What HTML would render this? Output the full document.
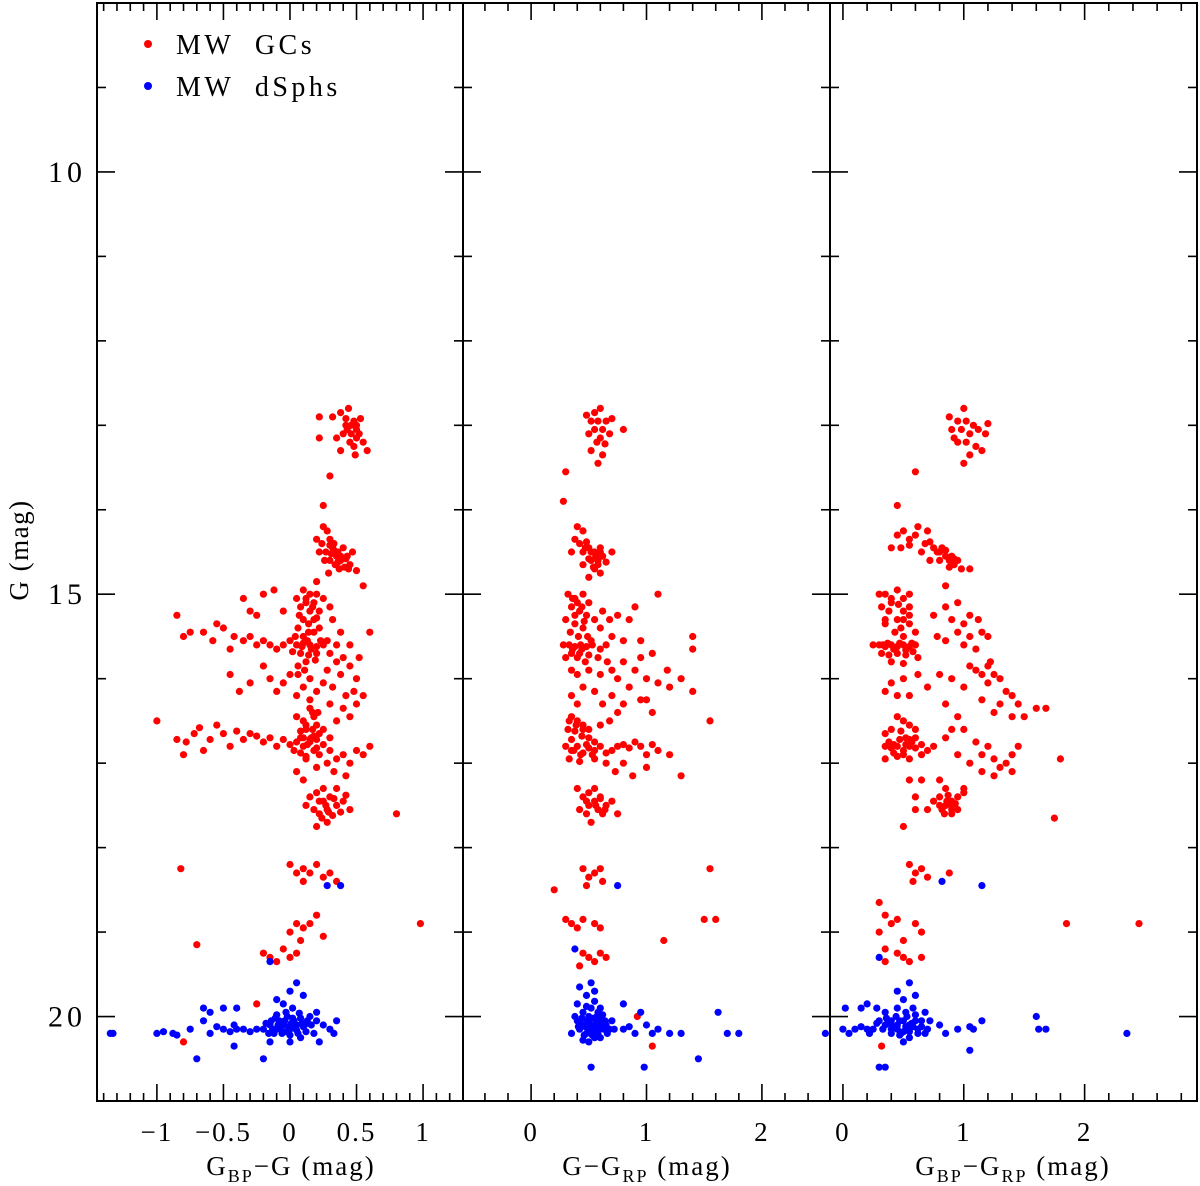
<!DOCTYPE html>
<html><head><meta charset="utf-8"><style>
html,body{margin:0;padding:0;background:#fff}
svg{display:block}
text{font-family:"Liberation Serif","DejaVu Serif",serif;fill:#000}
</style></head><body>
<svg id="chart" width="1200" height="1186" viewBox="0 0 1200 1186" xmlns="http://www.w3.org/2000/svg">
<g id="marks"></g>
<g id="axes"></g>
<g>
<circle cx="148" cy="44" r="4" fill="#ff0000"/>
<text x="176" y="54" font-size="28" letter-spacing="3.5" xml:space="preserve">MW  GCs</text>
<circle cx="148" cy="86" r="4" fill="#0000ff"/>
<text x="176" y="96" font-size="28" letter-spacing="3.5" xml:space="preserve">MW  dSphs</text>
</g>
<text transform="translate(28,550) rotate(-90)" font-size="27" letter-spacing="1.5" text-anchor="middle">G (mag)</text>
<text x="291" y="1175" font-size="27" letter-spacing="2" text-anchor="middle">G<tspan font-size="18" dy="7">BP</tspan><tspan dy="-7">−G (mag)</tspan></text>
<text x="647" y="1175" font-size="27" letter-spacing="2" text-anchor="middle">G−G<tspan font-size="18" dy="7">RP</tspan><tspan dy="-7"> (mag)</tspan></text>
<text x="1013" y="1175" font-size="27" letter-spacing="2" text-anchor="middle">G<tspan font-size="18" dy="7">BP</tspan><tspan dy="-7">−G</tspan><tspan font-size="18" dy="7">RP</tspan><tspan dy="-7"> (mag)</tspan></text>
</svg>
<script>
// ---- data ----
const gTicks = [10, 15, 20];
const leftTicks = ["−1", "−0.5", "0", "0.5", "1"];
const leftTickVals = [-1, -0.5, 0, 0.5, 1];
const colTicks = ["0", "1", "2"];
const colTickVals = [0, 1, 2];

const leftRedX = [0.32,0.38,0.44,0.48,0.42,0.5,0.46,0.52,0.4,0.35,0.45,0.55,0.5,0.43,0.38,0.48,0.58,0.22,0.22,0.53,0.42,0.49,0.3,0.25,
0.25,0.28,0.2,0.24,0.3,0.33,0.22,0.27,0.32,0.36,0.4,0.35,0.3,0.38,0.43,0.45,0.41,0.34,0.26,0.47,0.44,0.5,0.37,0.2,0.55,0.29,
0.1,0.15,0.2,0.05,0.12,0.18,0.25,0.08,0.15,0.22,0.3,0.1,0.18,0.06,0.14,0.22,0.32,0.38,0.45,0.35,0.28,
0,0.05,0.1,0.15,0.2,0.25,0.02,0.08,0.14,0.2,0.12,0.06,-0.05,-0.1,-0.15,-0.2,-0.25,-0.3,-0.35,-0.42,-0.5,-0.45,-0.55,-0.58,-0.65,-0.75,-0.85,-0.8,-0.35,-0.2,-0.12,-0.25,-0.3,-0.05,
0.3,0.35,0.4,0.45,0.28,0.38,0.5,0.25,0.32,0.42,0.48,0.55,0.5,0.4,0.3,0.2,0.15,0.1,0.05,0,-0.05,-0.1,-0.15,-0.2,-0.3,-0.38,-0.45,0.6,0.52,0.35,0.45,
0.15,0.18,0.1,0.2,0.12,0.22,0.08,0.16,0.25,0.05,
0.05,0.1,0.15,0.2,0.1,0.18,0,0.25,0.08,0.12,0.22,-0.05,-0.1,-0.15,-0.2,-0.25,-0.3,-0.35,-0.4,-0.45,-0.5,-0.6,-0.65,-0.72,-0.78,-0.68,-0.55,-0.85,-1.0,-0.8,0.3,0.35,0.4,0.45,0.5,0.55,0.33,0.42,0.28,0.2,0.6,0.3,
0.15,0.2,0.25,0.3,0.35,0.4,0.18,0.28,0.22,0.32,0.38,0.42,0.12,0.45,0.25,0.35,0.28,0.2,0.8,0.1,0.05,
0,0.05,0.1,0.15,0.2,0.25,0.3,0.35,0.1,-0.82,
0.05,0.1,0.15,0.2,0,0.08,0.98,0.25,
-0.05,0,-0.1,-0.15,0.05,-0.2,-0.7,-0.25,-0.8,
0.12,0.17,0.07,0.2,0.14,0.1,0.04,0.18,0.23,0.16,0.09,0.13,0.19,0.11,0.06,0.15,0.21,0.17,0.13,0.08,0.03,0.18,0.12,0.15,0.2,0.33,0.38,0.31,0.36,0.42,0.3,0.22,0.27,0.33,0.29,0.24,0.12,0.17,0.46,0.5];
const leftRedG = [12.9,12.85,12.8,12.95,13.0,13.0,13.1,13.1,13.1,13.15,13.2,13.2,13.05,13.05,13.3,13.25,13.3,12.9,13.15,12.92,12.92,13.35,13.6,13.95,
14.2,14.25,14.35,14.4,14.35,14.4,14.5,14.5,14.45,14.5,14.45,14.55,14.6,14.6,14.55,14.65,14.68,14.65,14.6,14.5,14.7,14.72,14.7,14.85,14.9,14.75,
14.95,15.0,15.0,15.05,15.1,15.1,15.05,15.15,15.2,15.2,15.15,15.3,15.3,15.4,15.45,15.4,15.3,15.45,15.6,15.6,15.55,
15.55,15.6,15.58,15.6,15.62,15.6,15.68,15.7,15.72,15.7,15.8,15.85,15.6,15.65,15.6,15.55,15.6,15.5,15.55,15.5,15.4,15.65,15.35,15.55,15.45,15.45,15.25,15.5,15.05,15.0,14.95,15.25,15.2,15.2,
15.7,15.8,15.75,15.85,15.9,15.95,16.0,16.05,16.1,16.2,16.15,16.2,16.3,16.35,16.3,16.15,16.0,16.1,16.2,15.95,16.05,16.15,16.0,15.85,16.05,16.15,15.95,15.45,15.75,16.5,16.45,
16.35,16.45,16.5,16.55,16.6,16.65,16.7,16.7,16.6,16.45,
16.75,16.8,16.75,16.82,16.7,16.68,16.78,16.78,16.88,16.92,16.9,16.72,16.8,16.7,16.75,16.68,16.65,16.72,16.62,16.8,16.65,16.72,16.85,16.65,16.75,16.58,16.55,16.72,16.5,16.9,16.85,16.95,16.9,17.0,16.85,16.9,17.1,17.15,17.0,17.05,16.8,16.7,
17.4,17.35,17.45,17.4,17.5,17.45,17.55,17.55,17.6,17.62,17.58,17.38,17.5,17.55,17.3,17.3,17.7,17.75,17.6,17.2,17.1,
18.2,18.3,18.25,18.3,18.2,18.35,18.3,18.4,18.4,18.25,
18.9,18.95,18.9,18.8,19.0,19.1,18.9,19.05,
19.2,19.3,19.35,19.3,19.25,19.25,19.15,19.85,20.3,
15.05,15.15,15.25,15.28,15.35,15.5,15.5,15.45,15.55,15.65,15.62,15.55,15.78,15.9,15.95,16.25,16.4,16.6,16.78,16.62,16.85,16.85,16.95,16.72,16.72,14.48,14.55,14.52,14.62,14.58,14.42,17.45,17.5,17.42,17.58,17.65,16.55,16.4,13.0,13.15];
const leftBlueX = [-0.2,-0.15,-0.1,-0.05,0,0.05,0.1,-0.08,-0.02,0.03,0.08,-0.12,-0.06,0,0.06,0.12,-0.03,0.02,-0.1,0.15,0.2,0.25,0.3,0.18,-0.25,-0.3,-0.35,-0.4,-0.45,-0.5,-0.42,-0.55,-0.6,-0.65,-0.5,-0.6,-0.65,-0.4,-0.42,-0.7,-0.75,-0.88,-0.95,-1.0,-0.85,-1.35,-1.33,-0.2,-0.1,0,0.05,0.1,0.2,0.22,0.35,0.33,0,-0.15,-0.05,0.28,0.38,-0.15,
-0.18,-0.14,-0.09,-0.04,0.01,0.04,0.09,0.13,-0.07,-0.01,0.05,0.11,-0.16,-0.11,0.16,0.07,-0.03,0.02,-0.13,0.08];
const leftBlueG = [20.15,20.1,20.15,20.1,20.15,20.1,20.12,20.05,20.0,20.05,20.02,20.2,20.2,20.22,20.2,20.18,19.95,19.9,19.98,20.0,20.05,20.1,20.15,20.2,20.15,20.18,20.15,20.15,20.18,20.15,20.1,20.12,20.2,20.05,19.9,19.95,19.9,19.9,20.35,20.5,20.15,20.2,20.18,20.2,20.22,20.2,20.2,20.5,19.8,19.7,19.6,19.75,19.95,20.3,20.05,20.2,20.3,20.3,19.85,18.45,18.45,19.35,
20.08,20.05,20.1,20.05,20.08,20.14,20.08,20.05,20.14,20.12,20.16,20.1,20.2,20.02,20.1,19.96,20.18,20.02,20.15,20.25];

const midRedX = [0.55,0.6,0.52,0.58,0.65,0.62,0.55,0.5,0.6,0.68,0.57,0.64,0.7,0.8,0.52,0.62,0.58,0.48,0.3,0.28,
0.4,0.45,0.38,0.42,0.48,0.5,0.45,0.55,0.6,0.52,0.58,0.62,0.65,0.55,0.6,0.5,0.7,0.35,0.45,
0.32,0.38,0.45,0.5,0.35,0.42,0.48,0.3,0.38,0.45,0.55,0.62,0.68,0.75,0.85,0.9,1.1,1.4,1.4,0.6,0.7,0.8,0.95,1.05,
0.28,0.33,0.38,0.43,0.48,0.53,0.35,0.42,0.5,0.6,0.65,0.58,0.3,0.66,
0.35,0.4,0.5,0.6,0.7,0.75,0.8,0.9,1.0,1.1,1.2,1.4,0.85,0.7,0.55,0.45,0.35,0.4,0.62,0.8,0.95,1.05,0.75,1.3,1.0,1.18,0.95,
0.35,0.4,0.45,0.32,0.38,0.44,0.5,0.6,0.68,0.35,
0.3,0.35,0.4,0.45,0.5,0.55,0.6,0.65,0.7,0.75,0.8,0.85,0.9,0.95,1.0,1.05,1.1,1.2,0.33,0.42,0.55,0.65,0.8,1.0,0.88,0.73,1.3,1.55,
0.45,0.5,0.55,0.6,0.65,0.5,0.58,0.48,0.62,0.42,0.7,0.55,0.4,0.75,0.52,
0.45,0.5,0.55,0.6,0.48,0.62,1.55,0.2,
0.3,0.35,0.4,0.45,0.55,0.6,1.5,1.6,1.15,
0.45,0.5,0.55,0.6,0.65,0.42,0.92,1.05,
0.36,0.4,0.44,0.38,0.46,0.34,0.41,0.49,0.52,0.36,0.44,0.4,0.47,0.33,0.39,0.45,0.5,0.55,0.37,0.43,0.48,0.53,0.47,0.52,0.56,0.5,0.58,0.54,0.6,0.48,0.56,0.6,0.64];
const midRedG = [12.85,12.8,12.95,12.95,12.95,13.05,13.05,13.1,13.15,13.1,13.2,13.22,12.92,13.05,13.3,13.35,13.45,12.88,13.55,13.9,
14.2,14.25,14.35,14.4,14.38,14.45,14.5,14.5,14.5,14.6,14.6,14.55,14.62,14.7,14.75,14.8,14.5,14.5,14.65,
15.0,15.05,15.0,15.1,15.15,15.2,15.25,15.3,15.35,15.4,15.3,15.2,15.3,15.25,15.3,15.15,15.0,15.5,15.65,15.4,15.5,15.55,15.55,15.7,
15.6,15.6,15.62,15.6,15.62,15.6,15.7,15.7,15.72,15.65,15.6,15.75,15.75,15.8,
15.9,15.95,15.9,15.95,15.9,16.0,15.8,15.9,16.0,16.05,16.1,16.15,16.1,16.2,16.15,16.1,16.2,16.3,16.3,16.3,16.25,16.4,16.4,16.0,16.25,15.9,15.75,
16.45,16.5,16.55,16.6,16.62,16.68,16.6,16.55,16.5,16.72,
16.8,16.85,16.8,16.88,16.82,16.85,16.8,16.88,16.85,16.8,16.78,16.82,16.75,16.8,16.9,16.78,16.85,16.9,16.95,16.98,16.95,17.0,17.0,17.05,17.15,17.1,17.15,16.5,
17.4,17.35,17.45,17.4,17.5,17.5,17.55,17.6,17.6,17.55,17.45,17.3,17.3,17.6,17.7,
18.25,18.35,18.3,18.25,18.45,18.4,18.25,18.5,
18.85,18.9,18.95,18.85,18.9,18.95,18.85,18.85,19.1,
19.25,19.3,19.35,19.25,19.3,19.4,20.0,20.35,
15.05,15.1,15.15,15.25,15.32,15.45,15.5,15.5,15.55,15.65,15.65,15.75,15.8,16.5,16.55,16.6,16.7,16.75,16.85,16.9,16.78,16.9,14.45,14.5,14.55,14.58,14.65,14.68,14.45,17.45,17.5,17.42,17.55];
const midBlueX = [0.4,0.45,0.5,0.55,0.6,0.65,0.42,0.48,0.53,0.58,0.63,0.68,0.45,0.52,0.58,0.5,0.55,0.6,0.38,0.35,0.7,0.72,0.5,0.55,0.45,0.4,0.48,0.52,0.55,0.42,0.8,0.85,0.9,1.0,1.05,1.1,1.2,1.3,1.45,1.62,1.7,1.8,2.55,0.95,0.8,0.52,0.98,0.38,0.75,
0.43,0.47,0.51,0.56,0.61,0.44,0.5,0.54,0.59,0.64,0.46,0.53,0.57,0.62,0.49,0.41,0.66,0.55,0.48,0.6];
const midBlueG = [20.05,20.1,20.05,20.1,20.05,20.1,20.15,20.2,20.15,20.2,20.15,20.15,19.95,19.9,19.95,20.0,19.82,19.9,20.0,20.2,20.05,20.15,20.3,20.25,20.28,19.85,19.75,19.6,19.7,19.65,20.15,20.12,20.2,20.1,20.2,20.15,20.2,20.2,20.5,19.95,20.2,20.2,20.2,19.95,19.85,20.6,20.6,19.2,18.45,
20.08,20.12,20.1,20.08,20.12,20.02,20.18,20.02,20.15,20.05,20.22,20.22,20.0,19.98,20.05,20.12,20.2,20.15,19.88,20.25];

const rightRedX = [1.0,0.88,0.95,1.02,1.08,0.9,0.98,1.05,1.12,1.18,1.02,0.95,1.1,1.15,1.05,0.92,1.0,1.2,0.6,0.45,
0.45,0.5,0.55,0.6,0.4,0.48,0.55,0.62,0.7,0.68,0.72,0.75,0.78,0.82,0.85,0.9,0.8,0.92,0.88,0.72,0.65,0.95,0.98,1.05,0.85,
0.3,0.35,0.45,0.55,0.5,0.4,0.32,0.38,0.5,0.55,0.45,0.35,0.55,0.6,0.5,
0.3,0.35,0.4,0.45,0.5,0.55,0.6,0.32,0.38,0.45,0.52,0.58,0.62,0.25,0.4,0.5,
0.85,0.95,1.05,1.12,0.9,1.0,0.95,1.05,1.15,0.85,1.0,1.1,1.2,0.75,0.78,
1.05,1.1,1.15,1.2,1.25,1.2,1.3,1.22,1.35,1.4,1.3,1.45,1.5,1.6,1.68,1.4,1.25,1.15,1.0,0.9,0.8,0.7,0.62,0.5,0.4,0.35,0.45,0.55,0.85,0.95,
0.45,0.5,0.55,0.4,0.48,0.52,0.6,0.35,
0.35,0.4,0.45,0.5,0.55,0.6,0.65,0.7,0.75,0.45,0.55,0.35,0.65,
0.85,0.9,1.0,1.1,1.2,1.15,1.25,1.3,1.35,1.4,1.45,1.4,1.25,1.15,1.05,0.95,1.8,0.8,0.65,1.0,
0.75,0.8,0.85,0.9,0.95,1.0,0.82,0.9,0.7,0.95,0.6,0.55,0.6,0.5,0.85,1.75,
0.55,0.6,0.65,0.58,0.7,0.88,0.3,
0.35,0.4,0.45,0.6,0.65,0.3,0.35,0.5,1.85,2.45,
0.45,0.5,0.55,0.35,0.65,0.32,
0.33,0.37,0.42,0.47,0.52,0.57,0.35,0.43,0.48,0.55,0.4,0.46,0.5,0.38,0.42,0.47,0.52,0.57,0.42,0.5,0.55,0.6,0.8,0.85,0.88,0.92,0.86,0.9,0.8,0.87,0.93,0.9,0.84];
const rightRedG = [12.8,12.9,12.95,12.95,13.0,13.05,13.05,13.1,13.05,13.1,13.2,13.2,13.25,13.3,13.35,13.15,13.45,12.98,13.55,13.95,
14.3,14.25,14.35,14.3,14.45,14.45,14.42,14.2,14.25,14.4,14.38,14.45,14.5,14.45,14.55,14.55,14.6,14.65,14.68,14.6,14.5,14.6,14.7,14.7,14.9,
15.0,15.0,14.95,15.0,15.05,15.1,15.15,15.2,15.2,15.15,15.3,15.35,15.35,15.45,15.5,
15.6,15.62,15.6,15.62,15.6,15.62,15.6,15.7,15.72,15.7,15.72,15.68,15.75,15.6,15.8,15.82,
15.15,15.1,15.25,15.3,15.3,15.35,15.45,15.5,15.45,15.55,15.6,15.65,15.5,15.25,15.5,
15.85,15.9,15.95,15.85,15.95,16.05,16.0,15.8,16.15,16.2,16.3,16.3,16.45,16.35,16.35,16.45,16.4,16.25,16.1,16.0,15.95,16.1,15.95,16.0,16.05,16.15,16.2,16.2,16.3,16.45,
16.45,16.5,16.55,16.6,16.62,16.7,16.6,16.65,
16.8,16.82,16.8,16.85,16.8,16.82,16.78,16.85,16.8,16.92,16.95,16.95,16.9,
16.7,16.6,16.6,16.75,16.8,16.9,16.95,17.05,17.0,16.9,16.8,17.1,17.15,17.1,17.0,16.9,16.95,17.2,17.2,17.3,
17.45,17.4,17.5,17.45,17.4,17.35,17.55,17.6,17.55,17.55,17.4,17.2,17.55,17.75,17.3,17.65,
18.2,18.3,18.25,18.4,18.35,18.3,18.65,
18.8,18.9,18.85,18.9,19.0,19.0,19.2,19.1,18.9,18.9,
19.25,19.3,19.35,19.35,19.3,20.35,
15.6,15.58,15.65,15.58,15.66,15.58,15.3,15.45,15.4,15.25,15.05,15.12,15.3,16.75,16.78,16.72,16.78,16.75,16.88,16.9,16.72,16.7,14.5,14.48,14.6,14.58,17.45,17.5,17.5,17.38,17.48,17.55,17.6];
const rightBlueX = [0.3,0.35,0.4,0.45,0.5,0.55,0.6,0.65,0.4,0.48,0.55,0.62,0.7,0.35,0.45,0.52,0.58,0.5,0.45,0.55,0.6,0.68,0.72,0.25,0.2,0.15,0.1,0.05,0,0.02,0.15,0.2,0.28,0.22,0.8,0.85,0.95,1.05,1.08,1.15,1.05,1.6,1.62,1.68,2.35,0.3,0.35,0.5,0.82,1.15,0.3,
0.38,0.42,0.47,0.52,0.57,0.62,0.33,0.44,0.5,0.58,0.65,0.4,0.53,0.47,0.6,0.36,0.55,0.68,0.28,0.45];
const rightBlueG = [20.05,20.1,20.05,20.1,20.05,20.1,20.05,20.12,20.15,20.2,20.18,20.2,20.15,19.95,19.9,19.95,19.9,19.8,19.7,19.6,19.75,19.95,20.05,20.15,20.15,20.12,20.15,20.2,20.15,19.9,19.9,19.85,19.9,20.2,20.1,20.2,20.15,20.12,20.15,20.05,20.4,20.0,20.15,20.15,20.2,20.6,20.6,20.3,18.4,18.45,19.3,
20.08,20.12,20.05,20.12,20.08,20.15,20.15,20.0,20.18,20.12,20.05,20.2,20.0,20.22,19.98,20.02,20.25,20.2,20.08,20.15];

// ---- layout ----
const NS = "http://www.w3.org/2000/svg";
const TOP = 3, BOT = 1101, GMIN = 8, GMAX = 21;
const yScale = g => TOP + (g - GMIN) / (GMAX - GMIN) * (BOT - TOP);
const panels = [
  {name:"left", x0:97, x1:463, vmin:-1.45, vmax:1.3, minor:0.1, major:0.5, ticks:leftTickVals, labels:leftTicks, rx:leftRedX, rg:leftRedG, bx:leftBlueX, bg:leftBlueG},
  {name:"middle", x0:463, x1:830, vmin:-0.59, vmax:2.59, minor:0.2, major:1, ticks:colTickVals, labels:colTicks, rx:midRedX, rg:midRedG, bx:midBlueX, bg:midBlueG},
  {name:"right", x0:830, x1:1197, vmin:-0.107, vmax:2.93, minor:0.2, major:1, ticks:colTickVals, labels:colTicks, rx:rightRedX, rg:rightRedG, bx:rightBlueX, bg:rightBlueG}
];
const marks = document.getElementById('marks');
const axes = document.getElementById('axes');
function mk(tag, attrs, parent){
  const e = document.createElementNS(NS, tag);
  for (const k in attrs) e.setAttribute(k, attrs[k]);
  parent.appendChild(e);
  return e;
}
function line(x1,y1,x2,y2,w,nm){
  const l = mk('line',{x1:x1,y1:y1,x2:x2,y2:y2,stroke:'#000','stroke-width':w},axes);
  
  
}
panels.forEach(p => {
  const xs = v => p.x0 + (v - p.vmin) / (p.vmax - p.vmin) * (p.x1 - p.x0);
  for (let i = 0; i < p.rx.length; i++) {
    const c = mk('circle',{cx:xs(p.rx[i]).toFixed(1),cy:yScale(p.rg[i]).toFixed(1),r:3.6,fill:'#ff0000'},marks);
    
    
  }
  for (let i = 0; i < p.bx.length; i++) {
    const c = mk('circle',{cx:xs(p.bx[i]).toFixed(1),cy:yScale(p.bg[i]).toFixed(1),r:3.6,fill:'#0000ff'},marks);
    
    
  }
  const n0 = Math.ceil(p.vmin / p.minor - 1e-6), n1 = Math.floor(p.vmax / p.minor + 1e-6);
  for (let n = n0; n <= n1; n++) {
    const v = n * p.minor;
    const isMaj = Math.abs(v / p.major - Math.round(v / p.major)) < 1e-6;
    const L = isMaj ? 17 : 8;
    const x = xs(v);
    line(x, BOT, x, BOT - L, 1.6, 'x-tick-' + p.name);
    line(x, TOP, x, TOP + L, 1.6, 'x-tick-' + p.name);
  }
  p.ticks.forEach((v, i) => {
    const t = mk('text',{x:xs(v),y:1141,'font-size':27,'letter-spacing':2,'text-anchor':'middle'},axes);
    t.textContent = p.labels[i];
    
    
  });
  line(p.x0, TOP, p.x1, TOP, 2, 'frame-top-' + p.name);
  line(p.x0, BOT, p.x1, BOT, 2, 'frame-bottom-' + p.name);
});
const borders = [97, 463, 830, 1197];
borders.forEach((bx, bi) => {
  line(bx, TOP - 1, bx, BOT + 1, 2, 'panel-border');
  for (let g = GMIN + 1; g < GMAX; g++) {
    const isMaj = g % 5 === 0;
    const L = isMaj ? 18 : 9;
    const y = yScale(g);
    if (bi < 3) line(bx, y, bx + L, y, 1.6, 'y-tick');
    if (bi > 0) line(bx, y, bx - L, y, 1.6, 'y-tick');
  }
});
gTicks.forEach(g => {
  const t = mk('text',{x:86,y:yScale(g)+10,'font-size':30,'letter-spacing':4,'text-anchor':'end'},axes);
  t.textContent = String(g);
  
  
});
</script>
</body></html>
